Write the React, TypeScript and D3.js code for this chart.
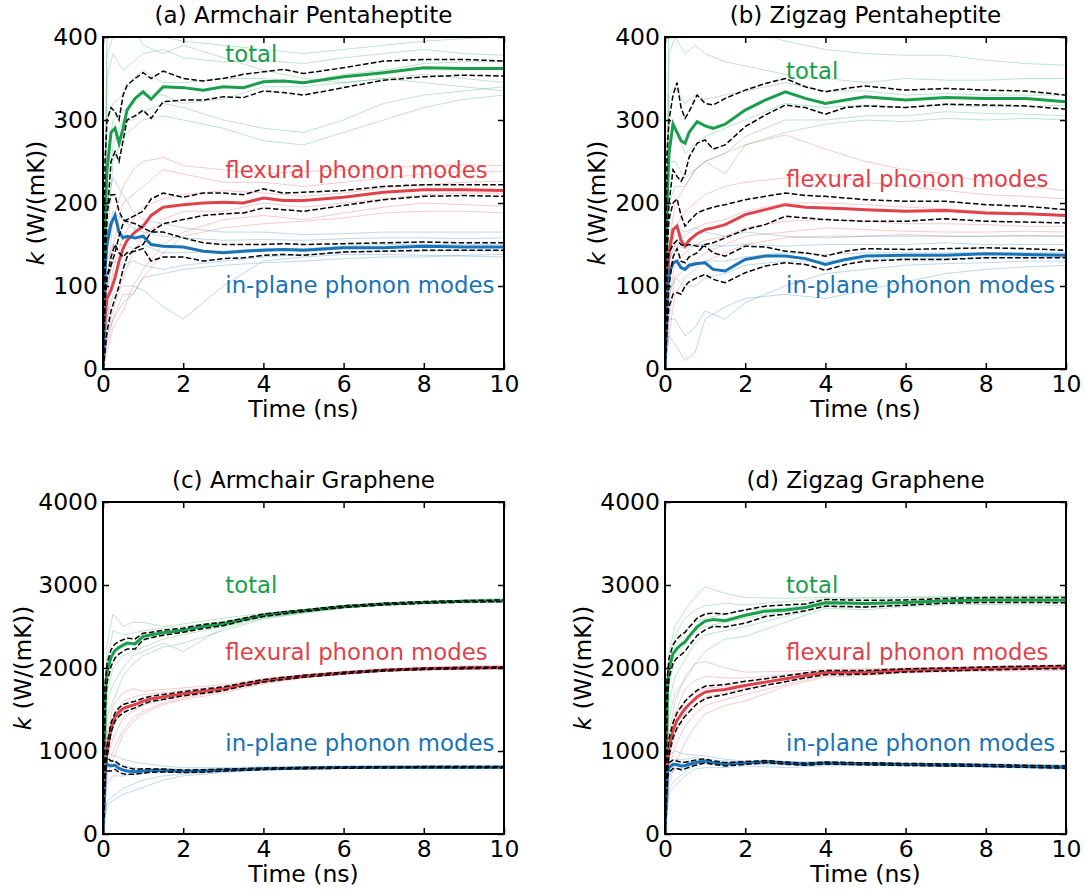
import * as d3 from 'd3'
import { useEffect, useRef } from 'react'

// time grids (ns)
const timeNs = [0, 0.05, 0.1, 0.2, 0.3, 0.4, 0.5, 0.6, 0.8, 1.0, 1.2, 1.5, 2, 2.5, 3, 3.5, 4, 4.5, 5, 6, 7, 8, 9, 10]
const runTimeNs = [0, 0.1, 0.25, 0.5, 0.75, 1, 1.5, 2, 3, 4, 5, 6, 7, 8, 9, 10]

const xTicks = [0, 2, 4, 6, 8, 10]
const yTicksPenta = [0, 100, 200, 300, 400]
const yTicksGraphene = [0, 1000, 2000, 3000, 4000]

const panelTitles = ['(a) Armchair Pentaheptite', '(b) Zigzag Pentaheptite', '(c) Armchair Graphene', '(d) Zigzag Graphene']
const seriesNames = ['total', 'flexural phonon modes', 'in-plane phonon modes']

// (a) armchair pentaheptite
const aTotalMean = [0, 180, 240, 285, 290, 272, 290, 312, 326, 334, 325, 340, 339, 336, 340, 339, 346, 347, 345, 352, 357, 363, 362, 362]
const aTotalHi = [0, 250, 300, 315, 310, 300, 330, 342, 350, 357, 350, 359, 350, 347, 350, 355, 358, 361, 356, 363, 371, 373, 373, 371]
const aTotalLo = [0, 110, 180, 250, 262, 250, 275, 300, 305, 312, 302, 322, 324, 324, 328, 327, 335, 333, 330, 339, 348, 352, 354, 353]
const aFlexMean = [0, 60, 85, 95, 110, 130, 145, 155, 165, 172, 185, 195, 198, 200, 201, 200, 206, 203, 203, 207, 213, 216, 216, 215]
const aFlexHi = [0, 90, 110, 125, 140, 160, 175, 180, 185, 190, 205, 212, 207, 212, 212, 210, 217, 212, 213, 215, 220, 222, 222, 222]
const aFlexLo = [0, 20, 45, 70, 85, 100, 120, 135, 145, 150, 165, 175, 180, 185, 187, 188, 194, 192, 190, 197, 204, 208, 209, 208]
const aInMean = [0, 120, 150, 175, 185, 165, 158, 160, 158, 160, 150, 148, 147, 142, 140, 142, 143, 144, 143, 146, 146, 148, 147, 147]
const aInHi = [0, 150, 190, 210, 210, 190, 180, 178, 175, 170, 165, 165, 158, 152, 150, 150, 150, 151, 150, 151, 152, 153, 152, 152]
const aInLo = [0, 80, 110, 135, 150, 140, 135, 140, 142, 145, 130, 135, 135, 130, 133, 134, 137, 138, 137, 141, 142, 143, 143, 143]
const aTotalRuns = [
  [0, 420, 450, 430, 420, 410, 400, 395, 390, 385, 380, 385, 390, 395, 398, 400],
  [0, 350, 380, 360, 370, 380, 385, 375, 370, 372, 368, 375, 380, 385, 380, 378],
  [0, 300, 320, 330, 350, 360, 345, 345, 350, 350, 345, 355, 360, 368, 370, 370],
  [0, 250, 300, 310, 320, 330, 330, 320, 325, 340, 340, 345, 350, 355, 350, 345],
  [0, 200, 270, 300, 300, 310, 320, 315, 300, 290, 285, 300, 320, 330, 335, 340],
  [0, 150, 250, 280, 290, 300, 305, 300, 290, 275, 270, 285, 300, 315, 325, 330],
  [0, 380, 400, 420, 410, 390, 380, 390, 375, 360, 350, 345, 350, 345, 340, 335],
]
const aFlexRuns = [
  [0, 100, 180, 220, 240, 250, 255, 245, 240, 235, 238, 240, 242, 245, 246, 245],
  [0, 80, 150, 200, 210, 220, 240, 235, 225, 225, 220, 225, 230, 235, 238, 238],
  [0, 60, 120, 160, 180, 195, 205, 210, 215, 212, 208, 212, 218, 222, 225, 226],
  [0, 40, 70, 110, 140, 160, 180, 190, 190, 200, 195, 200, 205, 210, 212, 212],
  [0, 20, 50, 70, 100, 120, 150, 165, 180, 185, 180, 188, 195, 200, 198, 196],
  [0, 30, 60, 90, 90, 110, 140, 160, 170, 175, 178, 182, 188, 190, 190, 188],
]
const aInRuns = [
  [0, 200, 230, 210, 190, 180, 175, 170, 165, 165, 162, 163, 165, 165, 165, 165],
  [0, 160, 190, 180, 170, 165, 160, 158, 155, 156, 155, 157, 158, 158, 157, 158],
  [0, 130, 150, 150, 145, 150, 140, 140, 142, 145, 145, 148, 150, 150, 150, 150],
  [0, 100, 130, 125, 130, 125, 120, 125, 130, 135, 138, 140, 142, 142, 143, 142],
  [0, 60, 90, 100, 100, 95, 75, 60, 100, 130, 135, 138, 138, 137, 136, 135],
  [0, 40, 60, 80, 90, 110, 115, 120, 125, 128, 130, 133, 135, 135, 137, 138],
]

// (b) zigzag pentaheptite
const bTotalMean = [0, 200, 260, 295, 285, 275, 272, 285, 298, 293, 290, 295, 312, 324, 334, 326, 320, 324, 328, 324, 327, 326, 326, 322]
const bTotalHi = [0, 260, 300, 330, 345, 315, 302, 310, 330, 320, 318, 326, 336, 344, 350, 340, 334, 338, 341, 336, 338, 336, 335, 330]
const bTotalLo = [0, 150, 200, 240, 232, 226, 235, 255, 272, 276, 265, 270, 292, 306, 318, 315, 307, 315, 317, 315, 319, 318, 317, 313]
const bFlexMean = [0, 100, 140, 168, 172, 155, 148, 155, 163, 168, 170, 174, 186, 192, 198, 195, 194, 193, 192, 190, 191, 188, 187, 185]
const bFlexHi = [0, 140, 180, 200, 205, 185, 172, 178, 188, 192, 195, 198, 204, 208, 212, 209, 208, 206, 204, 202, 202, 198, 196, 192]
const bFlexLo = [0, 60, 100, 135, 145, 130, 128, 135, 140, 150, 152, 158, 168, 174, 184, 182, 180, 179, 178, 178, 181, 178, 177, 176]
const bInMean = [0, 90, 115, 128, 130, 122, 120, 125, 127, 128, 120, 118, 132, 136, 136, 133, 126, 132, 136, 137, 137, 139, 138, 137]
const bInHi = [0, 120, 140, 150, 155, 150, 148, 150, 148, 148, 140, 136, 148, 147, 142, 140, 136, 142, 145, 144, 145, 146, 145, 143]
const bInLo = [0, 50, 75, 90, 92, 90, 100, 105, 110, 114, 108, 104, 116, 124, 128, 126, 119, 126, 130, 132, 132, 134, 134, 134]
const bTotalRuns = [
  [0, 450, 480, 460, 440, 430, 420, 410, 395, 385, 380, 378, 378, 372, 368, 366],
  [0, 380, 400, 380, 390, 380, 370, 365, 355, 350, 345, 350, 348, 348, 350, 350],
  [0, 330, 340, 320, 330, 325, 330, 335, 345, 335, 335, 330, 332, 330, 330, 330],
  [0, 300, 290, 260, 270, 280, 290, 300, 320, 315, 318, 315, 318, 316, 316, 318],
  [0, 250, 250, 230, 240, 250, 260, 280, 300, 300, 305, 305, 310, 308, 307, 305],
  [0, 200, 220, 220, 240, 250, 235, 270, 285, 295, 300, 298, 302, 300, 302, 300],
]
const bFlexRuns = [
  [0, 150, 200, 220, 240, 250, 260, 270, 282, 265, 250, 240, 235, 225, 220, 215],
  [0, 120, 170, 190, 200, 210, 220, 225, 230, 235, 225, 220, 215, 210, 208, 205],
  [0, 100, 150, 160, 170, 175, 180, 190, 200, 200, 198, 195, 193, 190, 188, 186],
  [0, 80, 130, 140, 150, 155, 160, 170, 178, 180, 178, 175, 175, 174, 172, 172],
  [0, 60, 110, 120, 130, 140, 150, 160, 165, 170, 168, 166, 165, 165, 166, 165],
  [0, 40, 90, 110, 120, 130, 140, 150, 158, 160, 160, 162, 160, 160, 160, 160],
]
const bInRuns = [
  [0, 150, 170, 165, 170, 165, 160, 165, 160, 158, 160, 160, 160, 160, 161, 160],
  [0, 130, 150, 145, 150, 150, 148, 150, 148, 150, 150, 150, 152, 150, 150, 150],
  [0, 110, 130, 120, 125, 130, 130, 135, 140, 138, 140, 140, 140, 140, 140, 140],
  [0, 90, 110, 100, 100, 110, 115, 125, 130, 130, 132, 133, 133, 134, 135, 135],
  [0, 60, 60, 40, 50, 70, 60, 80, 100, 115, 120, 125, 127, 128, 130, 130],
  [0, 40, 30, 10, 20, 60, 75, 85, 90, 85, 95, 105, 115, 120, 123, 125],
]

// (c) armchair graphene
const cTotalMean = [0, 1650, 1950, 2130, 2210, 2250, 2275, 2300, 2290, 2380, 2400, 2425, 2455, 2500, 2530, 2585, 2635, 2665, 2690, 2740, 2770, 2790, 2803, 2810]
const cTotalHi = [0, 1800, 2050, 2220, 2290, 2320, 2340, 2360, 2350, 2420, 2430, 2455, 2480, 2525, 2550, 2600, 2650, 2678, 2700, 2750, 2780, 2800, 2812, 2820]
const cTotalLo = [0, 1500, 1820, 2020, 2120, 2170, 2200, 2230, 2230, 2340, 2365, 2395, 2430, 2475, 2510, 2570, 2620, 2652, 2680, 2730, 2760, 2780, 2794, 2800]
const cFlexMean = [0, 750, 1000, 1280, 1410, 1470, 1510, 1530, 1560, 1600, 1630, 1650, 1690, 1720, 1750, 1800, 1845, 1875, 1900, 1940, 1972, 1990, 2000, 2005]
const cFlexHi = [0, 820, 1070, 1340, 1460, 1520, 1560, 1575, 1600, 1635, 1660, 1680, 1715, 1745, 1772, 1818, 1860, 1888, 1912, 1950, 1980, 1998, 2008, 2012]
const cFlexLo = [0, 680, 930, 1220, 1360, 1420, 1460, 1485, 1520, 1565, 1600, 1620, 1665, 1695, 1728, 1782, 1830, 1862, 1888, 1930, 1964, 1982, 1992, 1998]
const cInMean = [0, 800, 840, 820, 830, 790, 770, 760, 750, 760, 765, 765, 755, 760, 770, 778, 785, 790, 795, 800, 803, 805, 805, 805]
const cInHi = [0, 880, 920, 880, 880, 840, 815, 800, 780, 785, 785, 782, 770, 774, 782, 788, 794, 798, 803, 808, 810, 812, 812, 812]
const cInLo = [0, 720, 760, 760, 780, 740, 725, 720, 720, 735, 745, 748, 740, 746, 758, 768, 776, 782, 787, 792, 796, 798, 798, 798]
const cTotalRuns = [
  [0, 2300, 2650, 2500, 2550, 2550, 2500, 2530, 2600, 2660, 2700, 2750, 2780, 2800, 2820, 2840],
  [0, 2100, 2450, 2400, 2420, 2450, 2480, 2500, 2560, 2640, 2690, 2740, 2770, 2790, 2805, 2815],
  [0, 1900, 2200, 2250, 2300, 2380, 2420, 2450, 2530, 2630, 2685, 2735, 2765, 2785, 2800, 2810],
  [0, 1700, 2000, 2150, 2200, 2250, 2350, 2400, 2500, 2610, 2670, 2725, 2760, 2780, 2795, 2805],
  [0, 1400, 1600, 1900, 2050, 2150, 2250, 2300, 2450, 2590, 2660, 2720, 2755, 2775, 2790, 2795],
  [0, 1600, 1800, 2000, 2150, 2200, 2300, 2200, 2480, 2600, 2670, 2728, 2760, 2782, 2798, 2800],
]
const cFlexRuns = [
  [0, 1200, 1550, 1700, 1750, 1720, 1740, 1760, 1800, 1870, 1920, 1960, 1990, 2010, 2025, 2035],
  [0, 1100, 1400, 1600, 1650, 1680, 1700, 1730, 1780, 1855, 1910, 1950, 1980, 2000, 2012, 2020],
  [0, 1000, 1300, 1500, 1550, 1600, 1650, 1700, 1760, 1845, 1900, 1940, 1975, 1992, 2002, 2008],
  [0, 900, 1150, 1400, 1480, 1550, 1620, 1660, 1740, 1830, 1890, 1935, 1968, 1985, 1995, 2000],
  [0, 800, 1000, 1250, 1400, 1480, 1580, 1640, 1720, 1820, 1885, 1930, 1962, 1980, 1990, 1990],
  [0, 700, 900, 1200, 1350, 1450, 1560, 1620, 1700, 1810, 1880, 1925, 1958, 1975, 1985, 1985],
]
const cInRuns = [
  [0, 1000, 950, 900, 870, 850, 820, 800, 800, 810, 815, 820, 822, 825, 826, 828],
  [0, 900, 880, 830, 800, 780, 790, 780, 785, 795, 800, 808, 810, 812, 812, 812],
  [0, 800, 820, 780, 760, 750, 770, 760, 770, 785, 795, 802, 805, 806, 806, 806],
  [0, 600, 700, 700, 720, 730, 740, 745, 760, 780, 790, 798, 800, 800, 800, 800],
  [0, 400, 450, 550, 600, 650, 700, 720, 750, 775, 785, 792, 795, 796, 795, 795],
  [0, 350, 400, 480, 520, 560, 650, 700, 740, 770, 780, 788, 790, 790, 790, 790],
]

// (d) zigzag graphene
const dTotalMean = [0, 1700, 2000, 2170, 2235, 2280, 2315, 2380, 2495, 2565, 2585, 2570, 2635, 2685, 2700, 2730, 2785, 2782, 2778, 2788, 2810, 2820, 2820, 2816]
const dTotalHi = [0, 1850, 2120, 2280, 2350, 2400, 2430, 2490, 2600, 2650, 2660, 2650, 2700, 2745, 2760, 2770, 2825, 2820, 2815, 2820, 2838, 2848, 2850, 2848]
const dTotalLo = [0, 1550, 1880, 2060, 2120, 2160, 2200, 2270, 2390, 2460, 2500, 2495, 2540, 2620, 2650, 2690, 2745, 2740, 2735, 2757, 2780, 2790, 2790, 2786]
const dFlexMean = [0, 800, 1050, 1250, 1370, 1440, 1510, 1560, 1650, 1710, 1725, 1740, 1790, 1830, 1870, 1910, 1945, 1946, 1948, 1972, 1982, 1994, 2004, 2012]
const dFlexHi = [0, 900, 1150, 1340, 1460, 1530, 1600, 1650, 1730, 1780, 1790, 1800, 1840, 1870, 1905, 1940, 1970, 1970, 1970, 1990, 2000, 2012, 2022, 2030]
const dFlexLo = [0, 700, 950, 1160, 1280, 1350, 1420, 1470, 1570, 1630, 1655, 1680, 1740, 1790, 1835, 1880, 1920, 1922, 1925, 1952, 1964, 1976, 1986, 1994]
const dInMean = [0, 720, 800, 840, 835, 820, 825, 840, 865, 880, 860, 840, 855, 872, 855, 840, 855, 850, 846, 838, 832, 826, 815, 805]
const dInHi = [0, 780, 860, 890, 880, 865, 865, 875, 895, 905, 880, 860, 872, 885, 868, 852, 867, 862, 858, 850, 844, 838, 827, 818]
const dInLo = [0, 660, 740, 790, 790, 775, 785, 805, 835, 855, 840, 820, 838, 859, 842, 828, 843, 838, 834, 826, 820, 814, 803, 792]
const dTotalRuns = [
  [0, 2200, 2500, 2700, 2850, 2980, 2900, 2850, 2840, 2850, 2850, 2855, 2860, 2865, 2870, 2870],
  [0, 2000, 2400, 2600, 2700, 2750, 2780, 2760, 2800, 2830, 2840, 2845, 2850, 2850, 2855, 2855],
  [0, 1900, 2250, 2450, 2550, 2600, 2650, 2700, 2720, 2800, 2790, 2800, 2820, 2830, 2830, 2830],
  [0, 1800, 2100, 2300, 2450, 2500, 2550, 2600, 2680, 2760, 2760, 2780, 2800, 2810, 2812, 2812],
  [0, 1600, 1900, 2100, 2300, 2400, 2450, 2500, 2620, 2740, 2730, 2760, 2790, 2795, 2795, 2790],
  [0, 1400, 1700, 1850, 2050, 2200, 2350, 2380, 2550, 2720, 2700, 2740, 2760, 2765, 2760, 2755],
]
const dFlexRuns = [
  [0, 1200, 1600, 1900, 2050, 2080, 2000, 1950, 1960, 1980, 1990, 2000, 2010, 2020, 2030, 2040],
  [0, 1100, 1450, 1750, 1850, 1900, 1880, 1880, 1920, 1960, 1975, 1990, 2000, 2010, 2018, 2025],
  [0, 1000, 1300, 1600, 1700, 1750, 1780, 1800, 1870, 1940, 1950, 1970, 1985, 1995, 2005, 2010],
  [0, 900, 1200, 1450, 1550, 1650, 1700, 1750, 1840, 1930, 1935, 1960, 1975, 1985, 1992, 1998],
  [0, 800, 1050, 1300, 1450, 1550, 1620, 1680, 1800, 1910, 1920, 1950, 1965, 1975, 1980, 1985],
  [0, 600, 850, 1100, 1300, 1450, 1550, 1600, 1780, 1890, 1910, 1940, 1955, 1960, 1965, 1970],
]
const dInRuns = [
  [0, 950, 1000, 960, 950, 940, 900, 880, 870, 870, 860, 855, 850, 845, 840, 835],
  [0, 850, 900, 900, 920, 900, 880, 870, 860, 865, 855, 848, 842, 835, 828, 820],
  [0, 800, 850, 860, 880, 880, 860, 860, 850, 855, 848, 840, 833, 826, 815, 808],
  [0, 700, 780, 800, 850, 860, 840, 850, 845, 850, 840, 835, 828, 820, 810, 800],
  [0, 550, 650, 750, 820, 850, 830, 840, 830, 840, 835, 828, 820, 812, 802, 792],
  [0, 500, 580, 700, 780, 800, 800, 820, 800, 820, 825, 822, 815, 805, 795, 780],
]

// label anchors in data coords [time, k] per panel (total, flexural, in-plane)
const labelAnchors = [
  [[3.05, 370], [3.05, 230], [3.05, 91]],
  [[3.02, 350], [3.02, 219], [3.02, 91]],
  [[3.05, 2900], [3.05, 2100], [3.05, 1000]],
  [[3.02, 2900], [3.02, 2100], [3.02, 1000]],
]

const COLORS = ['#1a9e4b', '#e0424b', '#1873b7']
const FONT = "'DejaVu Sans', sans-serif"

export default function App() {
  const ref = useRef<SVGSVGElement>(null)

  useEffect(() => {
    const panels = [
      { left: 103, top: 37, yMax: 400, yTicks: yTicksPenta, ylabOff: 67,
        series: [[aTotalMean, aTotalHi, aTotalLo, aTotalRuns], [aFlexMean, aFlexHi, aFlexLo, aFlexRuns], [aInMean, aInHi, aInLo, aInRuns]] },
      { left: 665, top: 37, yMax: 400, yTicks: yTicksPenta, ylabOff: 68,
        series: [[bTotalMean, bTotalHi, bTotalLo, bTotalRuns], [bFlexMean, bFlexHi, bFlexLo, bFlexRuns], [bInMean, bInHi, bInLo, bInRuns]] },
      { left: 103, top: 502, yMax: 4000, yTicks: yTicksGraphene, ylabOff: 80,
        series: [[cTotalMean, cTotalHi, cTotalLo, cTotalRuns], [cFlexMean, cFlexHi, cFlexLo, cFlexRuns], [cInMean, cInHi, cInLo, cInRuns]] },
      { left: 665, top: 502, yMax: 4000, yTicks: yTicksGraphene, ylabOff: 82,
        series: [[dTotalMean, dTotalHi, dTotalLo, dTotalRuns], [dFlexMean, dFlexHi, dFlexLo, dFlexRuns], [dInMean, dInHi, dInLo, dInRuns]] },
    ]
    const w = 401
    const h = 332

    const svg = d3.select(ref.current)
    svg.selectAll('*').remove()

    panels.forEach((p, pi) => {
      const x = d3.scaleLinear().domain([0, 10]).range([0, w])
      const y = d3.scaleLinear().domain([0, p.yMax]).range([h, 0])
      const g = svg.append('g').attr('transform', `translate(${p.left},${p.top})`)

      g.append('clipPath').attr('id', `clip${pi}`)
        .append('rect').attr('width', w).attr('height', h)
      const plot = g.append('g').attr('clip-path', `url(#clip${pi})`)

      const line = (ts: number[]) => d3.line<number>()
        .x((_, i) => x(ts[i]))
        .y(d => y(d))

      // faint individual runs
      p.series.forEach((s, si) => {
        const runs = s[3] as number[][]
        runs.forEach(r => {
          plot.append('path')
            .attr('d', line(runTimeNs)(r))
            .attr('fill', 'none')
            .attr('stroke', COLORS[si])
            .attr('stroke-opacity', 0.28)
            .attr('stroke-width', 1)
        })
      })
      // means
      p.series.forEach((s, si) => {
        plot.append('path')
          .attr('d', line(timeNs)(s[0] as number[]))
          .attr('fill', 'none')
          .attr('stroke', COLORS[si])
          .attr('stroke-width', 3)
      })
      // error bounds
      p.series.forEach(s => {
        ;[s[1], s[2]].forEach(b => {
          plot.append('path')
            .attr('d', line(timeNs)(b as number[]))
            .attr('fill', 'none')
            .attr('stroke', 'black')
            .attr('stroke-width', 1.5)
            .attr('stroke-dasharray', '5.5,2.4')
        })
      })

      // labels
      labelAnchors[pi].forEach((a, si) => {
        g.append('text')
          .attr('x', x(a[0]))
          .attr('y', y(a[1]))
          .attr('fill', COLORS[si])
          .attr('font-family', FONT)
          .attr('font-size', 22.8)
          .text(seriesNames[si])
      })

      // axes with inward ticks
      const styleAxis = (sel: any) => {
        sel.select('.domain').remove()
        sel.selectAll('.tick line').attr('stroke', 'black').attr('stroke-width', 1.5)
        sel.selectAll('.tick text').attr('font-family', FONT).attr('font-size', 23.5).attr('fill', 'black')
      }
      g.append('g').attr('transform', `translate(0,${h})`)
        .call(d3.axisBottom(x).tickValues(xTicks).tickSize(-6).tickPadding(6).tickFormat(d3.format('d')))
        .call(styleAxis)
      g.append('g')
        .call(d3.axisTop(x).tickValues(xTicks).tickSize(-6).tickFormat(() => ''))
        .call(styleAxis)
      g.append('g')
        .call(d3.axisLeft(y).tickValues(p.yTicks).tickSize(-6).tickPadding(5).tickFormat(d3.format('d')))
        .call(styleAxis)
      g.append('g').attr('transform', `translate(${w},0)`)
        .call(d3.axisRight(y).tickValues(p.yTicks).tickSize(-6).tickFormat(() => ''))
        .call(styleAxis)

      g.append('rect').attr('width', w).attr('height', h)
        .attr('fill', 'none').attr('stroke', 'black').attr('stroke-width', 2)

      // title & axis labels
      g.append('text')
        .attr('x', w / 2).attr('y', -14)
        .attr('text-anchor', 'middle')
        .attr('font-family', FONT).attr('font-size', 23)
        .text(panelTitles[pi])
      g.append('text')
        .attr('x', w / 2).attr('y', h + 48)
        .attr('text-anchor', 'middle')
        .attr('font-family', FONT).attr('font-size', 23.5)
        .text('Time (ns)')
      const yl = g.append('text')
        .attr('transform', `translate(${-p.ylabOff},${h / 2}) rotate(-90)`)
        .attr('text-anchor', 'middle')
        .attr('dy', '0.35em')
        .attr('font-family', FONT).attr('font-size', 23)
      yl.append('tspan').attr('font-style', 'italic').text('k')
      yl.append('tspan').text(' (W/(mK))')
    })
  }, [])

  return (
    <svg ref={ref} width={1085} height={893}
      style={{ position: 'absolute', left: 0, top: 0, background: 'white' }} />
  )
}
